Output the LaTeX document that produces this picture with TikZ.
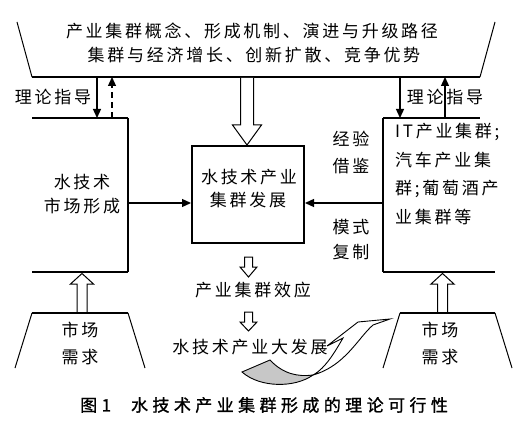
\documentclass[tikz,border=0pt]{standalone}
\usepackage{fontspec}
\setmainfont{Noto Sans CJK SC}
\newfontfamily\cjk[LetterSpace=16]{Noto Sans CJK SC}
\newfontfamily\capf[LetterSpace=26,FakeBold=1.2]{Noto Sans CJK SC}
\usetikzlibrary{arrows.meta}
\begin{document}
\begin{tikzpicture}[x=1pt,y=-1pt,
  txt/.style={inner sep=0pt, font=\cjk\fontsize{17}{17}\selectfont},
  thickln/.style={line width=2pt},
  vln/.style={line width=1.3pt},
  sln/.style={line width=1pt},
  arr/.style={line width=1.3pt, -{Triangle[length=9pt,width=8pt]}},
  hollow/.style={draw, line width=1pt, fill=white},
  ribbon/.style={draw, line width=0.9pt}]
\useasboundingbox (0,0) rectangle (530,441);

% top trapezoid
\coordinate (tl) at (17,22); \coordinate (tbl) at (32,77);
\coordinate (tbr) at (480,77); \coordinate (tr) at (495,22);
\draw[sln] (tl) -- (tbl);
\draw[thickln] (tbl) -- (tbr);
\draw[sln] (tbr) -- (tr);
\node[txt] (t1) at (252,31) {产业集群概念、形成机制、演进与升级路径};
\node[txt] (t2) at (254,55) {集群与经济增长、创新扩散、竞争优势};

% left box
\coordinate (lbtl) at (32,118); \coordinate (lbtr) at (128,118);
\coordinate (lbbr) at (128,272); \coordinate (lbbl) at (32,272);
\draw[line width=1.5pt] (lbtl) -- (lbtr);
\draw[vln] (lbtr) -- (lbbr);
\draw[line width=2.5pt] (lbbl) -- (lbbr);
\node[txt] (l1) at (82,182) {水技术};
\node[txt] (l2) at (82,206) {市场形成};

% right box
\coordinate (rbtl) at (383,118); \coordinate (rbtr) at (480,118);
\coordinate (rbbl) at (383,272); \coordinate (rbbr) at (495,272);
\draw[line width=1.5pt] (rbtl) -- (rbtr);
\draw[vln] (rbtl) -- (rbbl);
\draw[line width=2.5pt] (rbbl) -- (rbbr);
\node[txt, anchor=west] (r1) at (395,132) {IT产业集群;};
\node[txt, anchor=west] (r2) at (395,160) {汽车产业集};
\node[txt, anchor=west] (r3) at (395,189) {群;葡萄酒产};
\node[txt, anchor=west] (r4) at (395,217) {业集群等};

% center box
\node[draw, line width=2pt, minimum width=112pt, minimum height=97pt, inner sep=0pt] (cb) at (248,194.5) {};
\node[txt] (c1) at (249,177) {水技术产业};
\node[txt] (c2) at (248,200) {集群发展};

% side labels
\node[txt] (lg1) at (53,97) {理论指导};
\node[txt] (lg2) at (445,97) {理论指导};
\node[txt] (e1) at (351,139) {经验};
\node[txt] (e2) at (351,166) {借鉴};
\node[txt] (m1) at (351,227) {模式};
\node[txt] (m2) at (351,252) {复制};

% thin arrows
\coordinate (a1s) at (97,77); \coordinate (a1e) at (97,118);
\draw[arr] (a1s) -- (a1e);
\coordinate (a2s) at (112,118); \coordinate (a2e) at (112,77);
\draw[arr, dash pattern=on 6pt off 4pt] (a2s) -- (a2e);
\coordinate (a3s) at (400,77); \coordinate (a3e) at (400,118);
\draw[arr] (a3s) -- (a3e);
\coordinate (a4s) at (445,118); \coordinate (a4e) at (445,77);
\draw[arr] (a4s) -- (a4e);
\coordinate (lbR) at (128,203);
\draw[arr] (lbR) -- (lbR -| cb.west);
\coordinate (rbL) at (383,203);
\draw[arr] (rbL) -- (rbL -| cb.east);

% hollow block arrows
\draw[hollow] (240.5,78) -- (240.5,125) -- (232.5,125) -- (247,145) -- (261.5,125) -- (253.5,125) -- (253.5,78);
\draw[hollow] (77,312) -- (77,284) -- (70.5,284) -- (82,273.5) -- (93.5,284) -- (87,284) -- (87,312);
\draw[hollow] (437.5,312) -- (437.5,284) -- (431,284) -- (442.5,273.5) -- (454,284) -- (447.5,284) -- (447.5,312);
\draw[hollow] (244.5,257) -- (244.5,267) -- (240,267) -- (248.5,277) -- (257,267) -- (252.5,267) -- (252.5,257) -- cycle;
\draw[hollow] (244.5,312) -- (244.5,322) -- (240,322) -- (248.5,331) -- (257,322) -- (252.5,322) -- (252.5,312) -- cycle;

\node[txt] (fx) at (253,290) {产业集群效应};
\node[txt] (dfz) at (250,347) {水技术产业大发展};

% bottom trapezoids
\coordinate (bl1) at (32,313); \coordinate (bl2) at (128,313);
\coordinate (bl3) at (145,368); \coordinate (bl0) at (15,368);
\draw[sln] (bl0) -- (bl1); \draw[line width=1.5pt] (bl1) -- (bl2); \draw[sln] (bl2) -- (bl3);
\node[txt] (s1) at (80,330) {市场};
\node[txt] (s2) at (80,357) {需求};
\coordinate (br1) at (400,313); \coordinate (br2) at (495,313);
\coordinate (br3) at (512,368); \coordinate (br0) at (383,368);
\draw[sln] (br0) -- (br1); \draw[line width=1.5pt] (br1) -- (br2); \draw[sln] (br2) -- (br3);
\node[txt] (s3) at (440,330) {市场};
\node[txt] (s4) at (440,357) {需求};

% curved ribbon arrow
\draw[ribbon, fill=white] (313,375) .. controls (326,368) and (336,350) .. (343,338)
  -- (327,346) -- (358,322) -- (390,319) -- (373,325)
  .. controls (358,338) and (345,366) .. (313,375) -- cycle;
\draw[ribbon, fill=black!22] (242,372) -- (270,360) .. controls (283,374) and (298,377) .. (313,375)
  .. controls (295,388) and (260,388) .. (242,372) -- cycle;

% caption
\node[inner sep=0pt, anchor=west, font=\capf\fontsize{17}{17}\selectfont] (cap) at (80,405) {图1\hspace{20pt}水技术产业集群形成的理论可行性};
\end{tikzpicture}
\end{document}
